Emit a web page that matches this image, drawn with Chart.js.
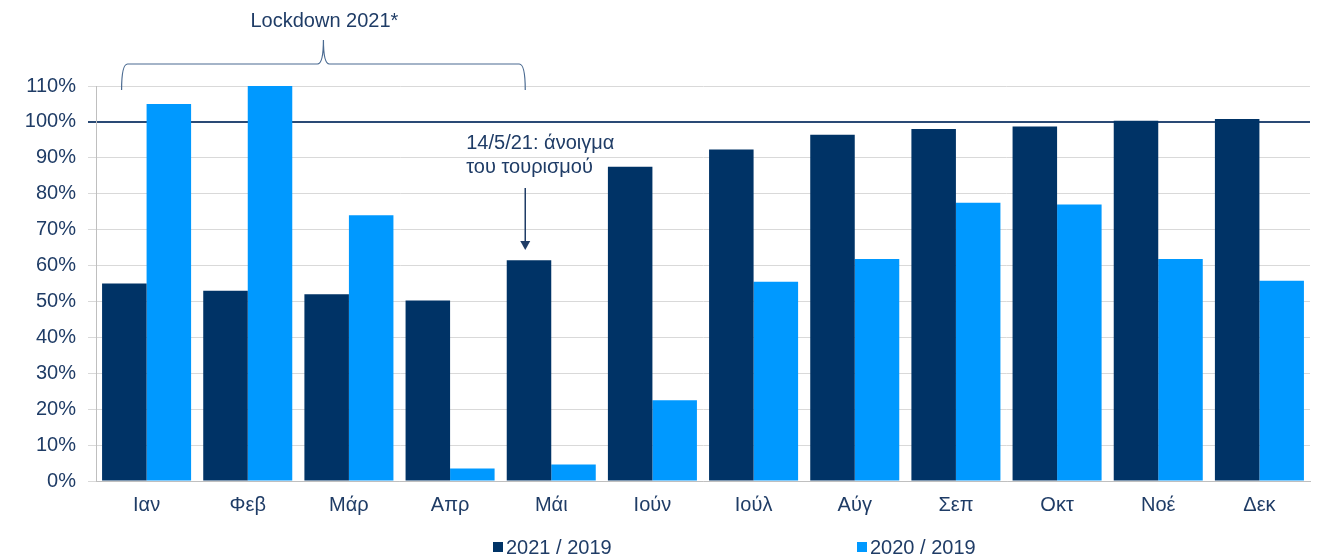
<!DOCTYPE html>
<html>
<head>
<meta charset="utf-8">
<script src="https://cdn.jsdelivr.net/npm/chart.js@4"></script>
<style>
  html, body { margin: 0; padding: 0; background: #fff; }
  #wrap { width: 1319px; height: 560px; position: relative; }
</style>
</head>
<body>
<div id="wrap"><canvas id="chart"></canvas></div>
<script>
'use strict';

/* ── Data ─────────────────────────────────────────────────────────── */
const months   = ['Ιαν','Φεβ','Μάρ','Απρ','Μάι','Ιούν','Ιούλ','Αύγ','Σεπ','Οκτ','Νοέ','Δεκ'];
const r2021    = [55, 53, 52, 50.3, 61.5, 87.5, 92.3, 96.4, 98, 98.7, 100.3, 100.8];
const r2020    = [105, 110, 74, 3.5, 4.6, 22.5, 55.5, 61.8, 77.5, 77, 61.8, 55.8];
const seriesNames = ['2021 / 2019', '2020 / 2019'];
const yTicks   = [0, 10, 20, 30, 40, 50, 60, 70, 80, 90, 100, 110];

const DARK  = '#003366';
const LIGHT = '#0099FF';
const TEXT  = '#1F3C66';
const FONT  = '"Liberation Sans", Arial, sans-serif';
const FSIZE = 20;

/* ── Annotations + legend drawn on canvas ─────────────────────────── */
const annotations = {
  id: 'annotations',
  afterDraw(chart) {
    const { ctx, scales: { x } } = chart;
    ctx.save();
    ctx.fillStyle = TEXT;
    ctx.strokeStyle = '#4a6a91';
    ctx.font = FSIZE + 'px ' + FONT;
    ctx.textAlign = 'center';
    ctx.textBaseline = 'middle';

    // Lockdown brace (Ιαν .. Μάι)
    const bx0 = x.getPixelForValue(0) - 25;
    const bx1 = x.getPixelForValue(4) - 26;
    const bm  = (bx0 + bx1) / 2;
    const top = 64, bottom = 90, peak = 38, r = 6;
    ctx.lineWidth = 1.2;
    ctx.beginPath();
    ctx.moveTo(bx0, bottom);
    ctx.quadraticCurveTo(bx0, top, bx0 + r, top);
    ctx.lineTo(bm - r, top);
    ctx.quadraticCurveTo(bm, top, bm, peak + 2);
    ctx.quadraticCurveTo(bm, top, bm + r, top);
    ctx.lineTo(bx1 - r, top);
    ctx.quadraticCurveTo(bx1, top, bx1, bottom);
    ctx.stroke();
    ctx.fillText('Lockdown 2021*', bm + 1, 21);

    // Tourism opening arrow
    const ax = x.getPixelForValue(4) - 26;
    ctx.textAlign = 'left';
    ctx.fillText('14/5/21: άνοιγμα', ax - 59, 143);
    ctx.fillText('του τουρισμού', ax - 59, 167);
    ctx.strokeStyle = TEXT;
    ctx.lineWidth = 1.5;
    ctx.beginPath();
    ctx.moveTo(ax, 188);
    ctx.lineTo(ax, 244);
    ctx.stroke();
    ctx.beginPath();
    ctx.moveTo(ax - 5, 241);
    ctx.lineTo(ax + 5, 241);
    ctx.lineTo(ax, 250);
    ctx.closePath();
    ctx.fill();

    // Legend
    const ly = 547;
    const items = [[493, DARK, seriesNames[0]], [857, LIGHT, seriesNames[1]]];
    items.forEach(([lx, col, label]) => {
      ctx.fillStyle = col;
      ctx.fillRect(lx, ly - 5, 10, 10);
      ctx.fillStyle = TEXT;
      ctx.fillText(label, lx + 13, ly + 1);
    });
    ctx.restore();
  }
};

/* ── Chart ────────────────────────────────────────────────────────── */
new Chart(document.getElementById('chart'), {
  type: 'bar',
  data: {
    labels: months,
    datasets: [
      { label: seriesNames[0], data: r2021, backgroundColor: DARK },
      { label: seriesNames[1], data: r2020, backgroundColor: LIGHT }
    ]
  },
  options: {
    responsive: true,
    maintainAspectRatio: false,
    animation: false,
    datasets: { bar: { categoryPercentage: 0.88, barPercentage: 1.0 } },
    layout: { padding: { top: 86, right: 9, bottom: 45, left: 0 } },
    plugins: { legend: { display: false }, tooltip: { enabled: false } },
    scales: {
      x: {
        grid: { display: false },
        border: { color: '#bfbfbf', width: 1 },
        ticks: { color: TEXT, font: { family: FONT, size: FSIZE }, padding: 4 },
        afterFit: s => { s.height = 34; }
      },
      y: {
        min: 0,
        max: 110,
        afterBuildTicks: s => { s.ticks = yTicks.map(v => ({ value: v })); },
        afterFit: s => { s.width = 96; },
        border: { color: '#bfbfbf', width: 1 },
        grid: {
          color: c => c.tick && c.tick.value === 100 ? '#2a4a75' : '#d9d9d9',
          lineWidth: c => c.tick && c.tick.value === 100 ? 2 : 1,
          tickLength: 8
        },
        ticks: {
          color: TEXT,
          font: { family: FONT, size: FSIZE },
          padding: 12,
          callback: v => v + '%'
        }
      }
    }
  },
  plugins: [annotations]
});
</script>
</body>
</html>
